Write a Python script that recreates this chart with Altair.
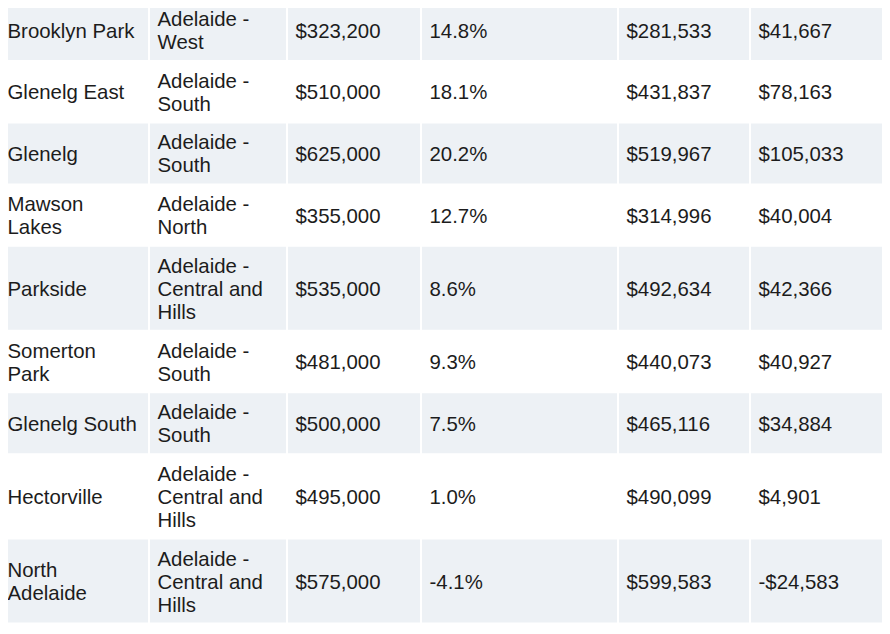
import altair as alt
import pandas as pd

suburbs = ["Brooklyn Park", "Glenelg East", "Glenelg", "Mawson\nLakes", "Parkside",
           "Somerton\nPark", "Glenelg South", "Hectorville", "North\nAdelaide"]
regions = ["Adelaide -\nWest", "Adelaide -\nSouth", "Adelaide -\nSouth", "Adelaide -\nNorth",
           "Adelaide -\nCentral and\nHills", "Adelaide -\nSouth", "Adelaide -\nSouth",
           "Adelaide -\nCentral and\nHills", "Adelaide -\nCentral and\nHills"]
median_price = [323200, 510000, 625000, 355000, 535000, 481000, 500000, 495000, 575000]
growth_pct = [14.8, 18.1, 20.2, 12.7, 8.6, 9.3, 7.5, 1.0, -4.1]
previous_price = [281533, 431837, 519967, 314996, 492634, 440073, 465116, 490099, 599583]
price_change = [41667, 78163, 105033, 40004, 42366, 40927, 34884, 4901, -24583]

# ---- layout / style ----
COL_LEFT = [0, 150, 288, 422, 619, 751]
COL_RIGHT = [148, 286, 420, 617, 749, 885]
TEXT_PAD = 7.5
GAP = 1.7
ROW_H_2 = 60.0
ROW_H_3 = 83.0
LINE_H = 23
SHADE = "#edf1f5"
TEXT_COLOR = "#1c1c1c"


def money(v):
    return ("-$" if v < 0 else "$") + f"{abs(v):,}"


def pct(v):
    return f"{v:.1f}%"


rect_rows = []
text_rows = []
y = 0.0
for i in range(len(suburbs)):
    labels = [suburbs[i], regions[i], money(median_price[i]), pct(growth_pct[i]),
              money(previous_price[i]), money(price_change[i])]
    lines = max(s.count("\n") + 1 for s in labels)
    h = ROW_H_3 if lines >= 3 else ROW_H_2
    for c in range(6):
        if i % 2 == 0:
            rect_rows.append({"x0": COL_LEFT[c], "x1": COL_RIGHT[c], "y0": y, "y1": y + h})
        n = labels[c].count("\n") + 1
        text_rows.append({"x": COL_LEFT[c] + TEXT_PAD,
                          "y": y + h / 2 - (n - 1) / 2 * LINE_H,
                          "label": labels[c]})
    y += h + GAP

rect_df = pd.DataFrame(rect_rows)
text_df = pd.DataFrame(text_rows)

W, H = 874, 618
xs = alt.Scale(domain=[8, 8 + W], nice=False, zero=False)
ys = alt.Scale(domain=[8, 8 + H], nice=False, zero=False, reverse=True)

rects = alt.Chart(rect_df).mark_rect(color=SHADE, clip=True).encode(
    x=alt.X("x0:Q", scale=xs, axis=None),
    x2="x1:Q",
    y=alt.Y("y0:Q", scale=ys, axis=None),
    y2="y1:Q",
)

texts = alt.Chart(text_df).mark_text(
    align="left", baseline="middle", font="Liberation Sans", fontSize=20.4,
    lineHeight=LINE_H, lineBreak="\n", color=TEXT_COLOR, clip=True, dy=1.5,
).encode(
    x=alt.X("x:Q", scale=xs, axis=None),
    y=alt.Y("y:Q", scale=ys, axis=None),
    text="label:N",
)

chart = alt.layer(rects, texts).properties(
    width=W, height=H, padding=0, autosize="none", background="white"
).configure_view(stroke=None)

chart.save("out.html", embed_options={"renderer": "svg", "actions": False})
